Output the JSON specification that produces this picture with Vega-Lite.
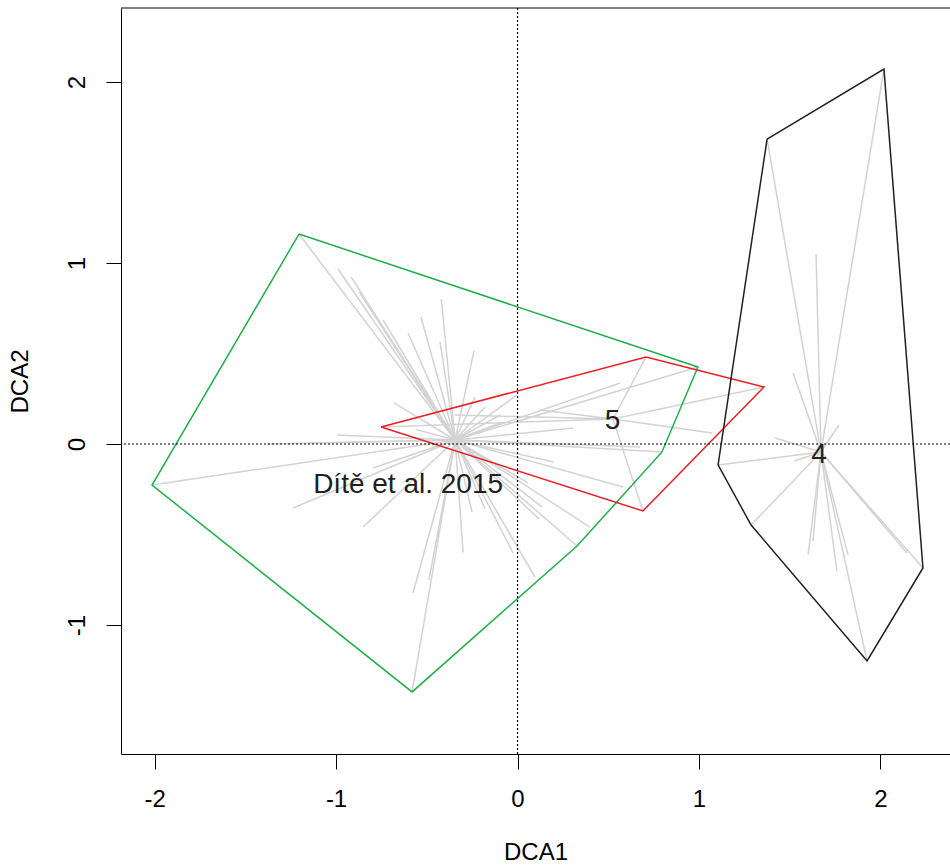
{
  "$schema": "https://vega.github.io/schema/vega-lite/v6.json",
  "autosize": "none",
  "width": 829,
  "height": 746,
  "padding": {"left": 121, "top": 8, "right": 0, "bottom": 112},
  "background": "white",
  "config": {
    "view": {"stroke": null},
    "font": "Liberation Sans",
    "locale": {"number": {"decimal": ".", "thousands": ",", "grouping": [3], "currency": ["$", ""], "minus": "-"}}
  },
  "resolve": {"axis": {"x": "independent", "y": "independent"}},
  "datasets": {
    "spider": [
      {"g": "Dite", "cx": -0.344, "cy": 0.022, "x": -1.204, "y": 1.160},
      {"g": "Dite", "cx": -0.344, "cy": 0.022, "x": -0.989, "y": 0.967},
      {"g": "Dite", "cx": -0.344, "cy": 0.022, "x": -0.917, "y": 0.923},
      {"g": "Dite", "cx": -0.344, "cy": 0.022, "x": -0.873, "y": 0.840},
      {"g": "Dite", "cx": -0.344, "cy": 0.022, "x": -0.741, "y": 0.685},
      {"g": "Dite", "cx": -0.344, "cy": 0.022, "x": -0.603, "y": 0.613},
      {"g": "Dite", "cx": -0.344, "cy": 0.022, "x": -0.532, "y": 0.702},
      {"g": "Dite", "cx": -0.344, "cy": 0.022, "x": -0.427, "y": 0.564},
      {"g": "Dite", "cx": -0.344, "cy": 0.022, "x": -0.240, "y": 0.514},
      {"g": "Dite", "cx": -0.344, "cy": 0.022, "x": -0.680, "y": 0.227},
      {"g": "Dite", "cx": -0.344, "cy": 0.022, "x": -0.994, "y": 0.050},
      {"g": "Dite", "cx": -0.344, "cy": 0.022, "x": -1.380, "y": 0.000},
      {"g": "Dite", "cx": -0.344, "cy": 0.022, "x": -1.143, "y": 0.006},
      {"g": "Dite", "cx": -0.344, "cy": 0.022, "x": -2.014, "y": -0.227},
      {"g": "Dite", "cx": -0.344, "cy": 0.022, "x": -0.796, "y": -0.133},
      {"g": "Dite", "cx": -0.344, "cy": 0.022, "x": -1.237, "y": -0.354},
      {"g": "Dite", "cx": -0.344, "cy": 0.022, "x": -0.851, "y": -0.459},
      {"g": "Dite", "cx": -0.344, "cy": 0.022, "x": -0.576, "y": -0.823},
      {"g": "Dite", "cx": -0.344, "cy": 0.022, "x": -0.488, "y": -0.751},
      {"g": "Dite", "cx": -0.344, "cy": 0.022, "x": -0.581, "y": -1.370},
      {"g": "Dite", "cx": -0.344, "cy": 0.022, "x": -0.251, "y": -0.376},
      {"g": "Dite", "cx": -0.344, "cy": 0.022, "x": -0.179, "y": -0.359},
      {"g": "Dite", "cx": -0.344, "cy": 0.022, "x": -0.025, "y": -0.602},
      {"g": "Dite", "cx": -0.344, "cy": 0.022, "x": 0.058, "y": -0.215},
      {"g": "Dite", "cx": -0.344, "cy": 0.022, "x": 0.118, "y": -0.414},
      {"g": "Dite", "cx": -0.344, "cy": 0.022, "x": 0.135, "y": -0.348},
      {"g": "Dite", "cx": -0.344, "cy": 0.022, "x": 0.096, "y": -0.735},
      {"g": "Dite", "cx": -0.344, "cy": 0.022, "x": 0.328, "y": -0.564},
      {"g": "Dite", "cx": -0.344, "cy": 0.022, "x": 0.399, "y": -0.459},
      {"g": "Dite", "cx": -0.344, "cy": 0.022, "x": 0.581, "y": -0.238},
      {"g": "Dite", "cx": -0.344, "cy": 0.022, "x": 0.796, "y": -0.044},
      {"g": "Dite", "cx": -0.344, "cy": 0.022, "x": 0.994, "y": 0.425},
      {"g": "Dite", "cx": -0.344, "cy": 0.022, "x": 0.565, "y": 0.337},
      {"g": "Dite", "cx": -0.344, "cy": 0.022, "x": 0.306, "y": 0.088},
      {"g": "Dite", "cx": -0.344, "cy": 0.022, "x": -0.179, "y": 0.204},
      {"g": "Dite", "cx": -0.344, "cy": 0.022, "x": -0.234, "y": 0.260},
      {"g": "Dite", "cx": -0.344, "cy": 0.022, "x": -0.096, "y": 0.160},
      {"g": "Dite", "cx": -0.344, "cy": 0.022, "x": -0.096, "y": 0.116},
      {"g": "Dite", "cx": -0.344, "cy": 0.022, "x": -0.003, "y": 0.271},
      {"g": "Dite", "cx": -0.344, "cy": 0.022, "x": 0.675, "y": -0.017},
      {"g": "Dite", "cx": -0.344, "cy": 0.022, "x": -0.420, "y": 0.800},
      {"g": "Dite", "cx": -0.344, "cy": 0.022, "x": -0.560, "y": 0.080},
      {"g": "Dite", "cx": -0.344, "cy": 0.022, "x": -0.300, "y": -0.600},
      {"g": "Dite", "cx": -0.344, "cy": 0.022, "x": 0.200, "y": -0.100},
      {"g": "5", "cx": 0.526, "cy": 0.138, "x": 0.708, "y": 0.481},
      {"g": "5", "cx": 0.526, "cy": 0.138, "x": 1.358, "y": 0.315},
      {"g": "5", "cx": 0.526, "cy": 0.138, "x": 1.072, "y": 0.061},
      {"g": "5", "cx": 0.526, "cy": 0.138, "x": 0.691, "y": -0.370},
      {"g": "5", "cx": 0.526, "cy": 0.138, "x": -0.752, "y": 0.094},
      {"g": "5", "cx": 0.526, "cy": 0.138, "x": -0.344, "y": 0.160},
      {"g": "5", "cx": 0.526, "cy": 0.138, "x": 0.124, "y": 0.188},
      {"g": "4", "cx": 1.672, "cy": -0.044, "x": 2.019, "y": 2.072},
      {"g": "4", "cx": 1.672, "cy": -0.044, "x": 1.375, "y": 1.685},
      {"g": "4", "cx": 1.672, "cy": -0.044, "x": 1.645, "y": 1.050},
      {"g": "4", "cx": 1.672, "cy": -0.044, "x": 1.518, "y": 0.392},
      {"g": "4", "cx": 1.672, "cy": -0.044, "x": 1.419, "y": 0.033},
      {"g": "4", "cx": 1.672, "cy": -0.044, "x": 1.523, "y": -0.094},
      {"g": "4", "cx": 1.672, "cy": -0.044, "x": 1.771, "y": 0.105},
      {"g": "4", "cx": 1.672, "cy": -0.044, "x": 1.105, "y": -0.116},
      {"g": "4", "cx": 1.672, "cy": -0.044, "x": 1.287, "y": -0.448},
      {"g": "4", "cx": 1.672, "cy": -0.044, "x": 1.601, "y": -0.613},
      {"g": "4", "cx": 1.672, "cy": -0.044, "x": 1.628, "y": -0.536},
      {"g": "4", "cx": 1.672, "cy": -0.044, "x": 1.760, "y": -0.702},
      {"g": "4", "cx": 1.672, "cy": -0.044, "x": 1.821, "y": -0.613},
      {"g": "4", "cx": 1.672, "cy": -0.044, "x": 1.926, "y": -1.199},
      {"g": "4", "cx": 1.672, "cy": -0.044, "x": 2.146, "y": -0.602},
      {"g": "4", "cx": 1.672, "cy": -0.044, "x": 2.234, "y": -0.685}
    ],
    "hull": [
      {"g": "Dite", "o": 1, "x": -1.204, "y": 1.160},
      {"g": "Dite", "o": 2, "x": 0.994, "y": 0.425},
      {"g": "Dite", "o": 3, "x": 0.796, "y": -0.044},
      {"g": "Dite", "o": 4, "x": 0.328, "y": -0.564},
      {"g": "Dite", "o": 5, "x": -0.581, "y": -1.370},
      {"g": "Dite", "o": 6, "x": -2.014, "y": -0.227},
      {"g": "Dite", "o": 7, "x": -1.204, "y": 1.160},
      {"g": "5", "o": 1, "x": -0.752, "y": 0.094},
      {"g": "5", "o": 2, "x": 0.708, "y": 0.481},
      {"g": "5", "o": 3, "x": 1.358, "y": 0.315},
      {"g": "5", "o": 4, "x": 0.691, "y": -0.370},
      {"g": "5", "o": 5, "x": -0.752, "y": 0.094},
      {"g": "4", "o": 1, "x": 1.375, "y": 1.685},
      {"g": "4", "o": 2, "x": 2.019, "y": 2.072},
      {"g": "4", "o": 3, "x": 2.234, "y": -0.685},
      {"g": "4", "o": 4, "x": 1.926, "y": -1.199},
      {"g": "4", "o": 5, "x": 1.287, "y": -0.448},
      {"g": "4", "o": 6, "x": 1.105, "y": -0.116},
      {"g": "4", "o": 7, "x": 1.375, "y": 1.685}
    ],
    "labels": [
      {"t": "Dítě et al. 2015", "x": -0.603, "y": -0.271},
      {"t": "5", "x": 0.523, "y": 0.081},
      {"t": "4", "x": 1.661, "y": -0.103}
    ],
    "refs": [{"zero": 0, "top": 2.409}]
  },
  "layer": [
    {
      "data": {"name": "spider"},
      "mark": {"type": "rule", "color": "#d3d3d3", "strokeWidth": 1.5},
      "encoding": {
        "x": {
          "field": "cx", "type": "quantitative",
          "scale": {"domain": [-2.185, 2.383], "nice": false, "zero": false},
          "axis": {
            "orient": "bottom",
            "values": [-2, -1, 0, 1, 2], "title": "DCA1", "grid": false,
            "tickSize": 15, "tickColor": "#000",
            "domainColor": "#000",
            "labelFontSize": 24, "labelColor": "#000", "labelPadding": 18,
            "labelFlush": false, "labelOverlap": false,
            "titleFontSize": 24, "titleFontWeight": "normal", "titleColor": "#000",
            "titleY": 105, "titleBaseline": "alphabetic"
          }
        },
        "y": {
          "field": "cy", "type": "quantitative",
          "scale": {"domain": [-1.713, 2.409], "nice": false, "zero": false},
          "axis": {
            "orient": "left",
            "values": [-1, 0, 1, 2], "title": "DCA2", "grid": false,
            "tickSize": 15, "tickColor": "#000",
            "domainColor": "#000",
            "labelFontSize": 24, "labelColor": "#000", "labelPadding": 22,
            "labelAngle": 270, "labelAlign": "center", "labelBaseline": "alphabetic",
            "labelFlush": false, "labelOverlap": false,
            "titleFontSize": 24, "titleFontWeight": "normal", "titleColor": "#000",
            "titleAngle": 270, "titleX": -94, "titleBaseline": "alphabetic"
          }
        },
        "x2": {"field": "x"},
        "y2": {"field": "y"}
      }
    },
    {
      "data": {"name": "hull"},
      "mark": {"type": "line", "strokeWidth": 1.5},
      "encoding": {
        "x": {"field": "x", "type": "quantitative", "axis": null},
        "y": {"field": "y", "type": "quantitative", "axis": null},
        "order": {"field": "o", "type": "quantitative"},
        "detail": {"field": "g"},
        "color": {
          "field": "g", "type": "nominal",
          "scale": {"domain": ["Dite", "5", "4"], "range": ["#1fae47", "#ed1c24", "#231f20"]},
          "legend": null
        }
      }
    },
    {
      "data": {"name": "refs"},
      "mark": {"type": "rule", "color": "#000", "strokeWidth": 1.2, "strokeDash": [2, 2]},
      "encoding": {
        "y": {"field": "zero", "type": "quantitative", "axis": null}
      }
    },
    {
      "data": {"name": "refs"},
      "mark": {"type": "rule", "color": "#000", "strokeWidth": 1.2, "strokeDash": [2, 2]},
      "encoding": {
        "x": {"field": "zero", "type": "quantitative", "axis": null}
      }
    },
    {
      "data": {"name": "refs"},
      "mark": {"type": "rule", "color": "#000", "strokeWidth": 1},
      "encoding": {
        "y": {"field": "top", "type": "quantitative", "axis": null}
      }
    },
    {
      "data": {"name": "labels"},
      "mark": {"type": "text", "fontSize": 28, "baseline": "alphabetic", "align": "center", "color": "#231f20", "font": "Liberation Sans"},
      "encoding": {
        "x": {"field": "x", "type": "quantitative", "axis": null},
        "y": {"field": "y", "type": "quantitative", "axis": null},
        "text": {"field": "t"}
      }
    }
  ]
}
